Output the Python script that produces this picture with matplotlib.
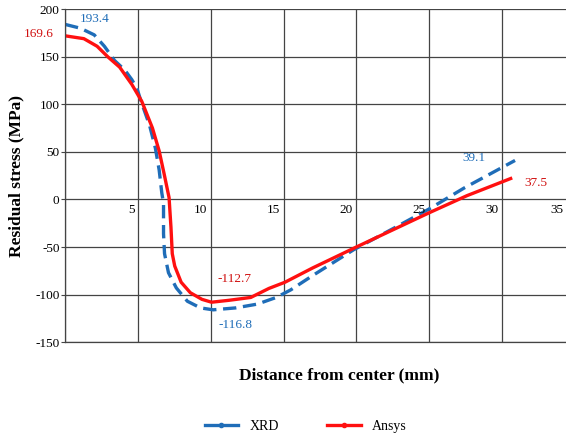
import numpy as np
import matplotlib
matplotlib.use("Agg")
import matplotlib.pyplot as plt
from matplotlib.pyplot import MultipleLocator

plt.rcParams['font.family'] = ['Liberation Serif', 'DejaVu Serif']
plt.rcParams['axes.unicode_minus'] = False

# XRD (dashed blue)
xrd_x = [0.0, 1.05, 2.0, 2.7, 3.4, 4.1, 4.58, 4.93, 5.22, 5.8, 6.2, 6.46, 6.64,
         6.76, 6.76, 6.83, 7.1, 7.64, 8.4, 9.3, 10.17, 11.7, 13.2, 14.5, 15.5,
         17.0, 19.8, 22.6, 25.0, 27.4, 30.9]
xrd_y = [184, 180, 173, 161, 146, 136, 126, 117, 103, 78, 54, 31, 7,
         -4, -36, -57, -77, -93, -107, -114, -116, -114, -110, -103, -95,
         -80, -53, -30, -10, 12, 41]

# Ansys (solid red)
ans_x = [0.0, 1.29, 2.2, 2.93, 3.75, 4.58, 5.27, 6.0, 6.46, 6.8, 7.14, 7.27,
         7.36, 7.53, 7.97, 8.6, 9.4, 10.06, 11.25, 12.75, 14.0, 15.1, 17.0,
         20.0, 25.0, 27.6, 30.6]
ans_y = [172, 169, 161, 150, 139, 121, 103, 75, 51, 27, 2, -29,
         -57, -70, -87, -98, -105, -108, -106, -103, -93.5, -87, -72,
         -50, -14, 4, 22]

x_ticks = [5, 10, 15, 20, 25, 30, 35]
y_ticks = [-150, -100, -50, 0, 50, 100, 150, 200]

blue = '#1f6db8'
red = '#ff1010'

fig = plt.figure(figsize=(5.66, 4.37), dpi=100)
ax = fig.add_axes([0.115, 0.217, 0.885, 0.762])

ax.plot(xrd_x, xrd_y, color=blue, lw=2.4, dashes=(4, 2), label='XRD',
        dash_joinstyle='round', dash_capstyle='butt')
ax.plot(ans_x, ans_y, color=red, lw=2.4, label='Ansys', solid_joinstyle='round')

ax.set_xlim(0, 34.4)
ax.set_ylim(-150, 200)
ax.xaxis.set_major_locator(MultipleLocator(5))
ax.yaxis.set_major_locator(MultipleLocator(50))
ax.grid(True, color='#444444', lw=0.9)
ax.set_axisbelow(True)
for s in ['top', 'right']:
    ax.spines[s].set_visible(False)
for s in ['left', 'bottom']:
    ax.spines[s].set_color('#444444')
    ax.spines[s].set_linewidth(0.9)

ax.tick_params(axis='x', length=0, labelbottom=False)
ax.tick_params(axis='y', length=3, width=0.8, color='#444444', pad=1, labelsize=9.5)
ax.set_yticks(y_ticks)

# x tick labels sit just under the zero line
for xt in x_ticks:
    ax.annotate(str(xt), xy=(min(xt - 0.25, 34.2), 0), xytext=(0, -7.5),
                textcoords='offset points', ha='right', va='center',
                fontsize=9.5, annotation_clip=False)

ax.set_ylabel('Residual stress (MPa)', fontsize=12.5, fontweight='bold', labelpad=8)
fig.text(0.60, 0.14, 'Distance from center (mm)', fontsize=12.5,
         fontweight='bold', ha='center', va='center')

# value labels
ax.text(2.0, 190, '193.4', color=blue, fontsize=9.5, ha='center', va='center')
ax.text(-1.8, 174, '169.6', color='#d01010', fontsize=9.5, ha='center', va='center', clip_on=False)
ax.text(11.6, -84, '-112.7', color='#d01010', fontsize=9.5, ha='center', va='center')
ax.text(11.7, -132, '-116.8', color=blue, fontsize=9.5, ha='center', va='center')
ax.text(28.1, 44, '39.1', color=blue, fontsize=9.5, ha='center', va='center')
ax.text(32.3, 17, '37.5', color='#d01010', fontsize=9.5, ha='center', va='center')

h1, = ax.plot([], [], color=blue, lw=2.4, marker='o', ms=3, markevery=[1])
h2, = ax.plot([], [], color=red, lw=2.4, marker='o', ms=3, markevery=[1])
fig.legend([h1, h2], ['XRD', 'Ansys'], loc='center', bbox_to_anchor=(0.54, 0.025),
           ncol=2, frameon=False, fontsize=10, handlelength=2.4, columnspacing=3.5)

fig.savefig('out.png', dpi=100)
